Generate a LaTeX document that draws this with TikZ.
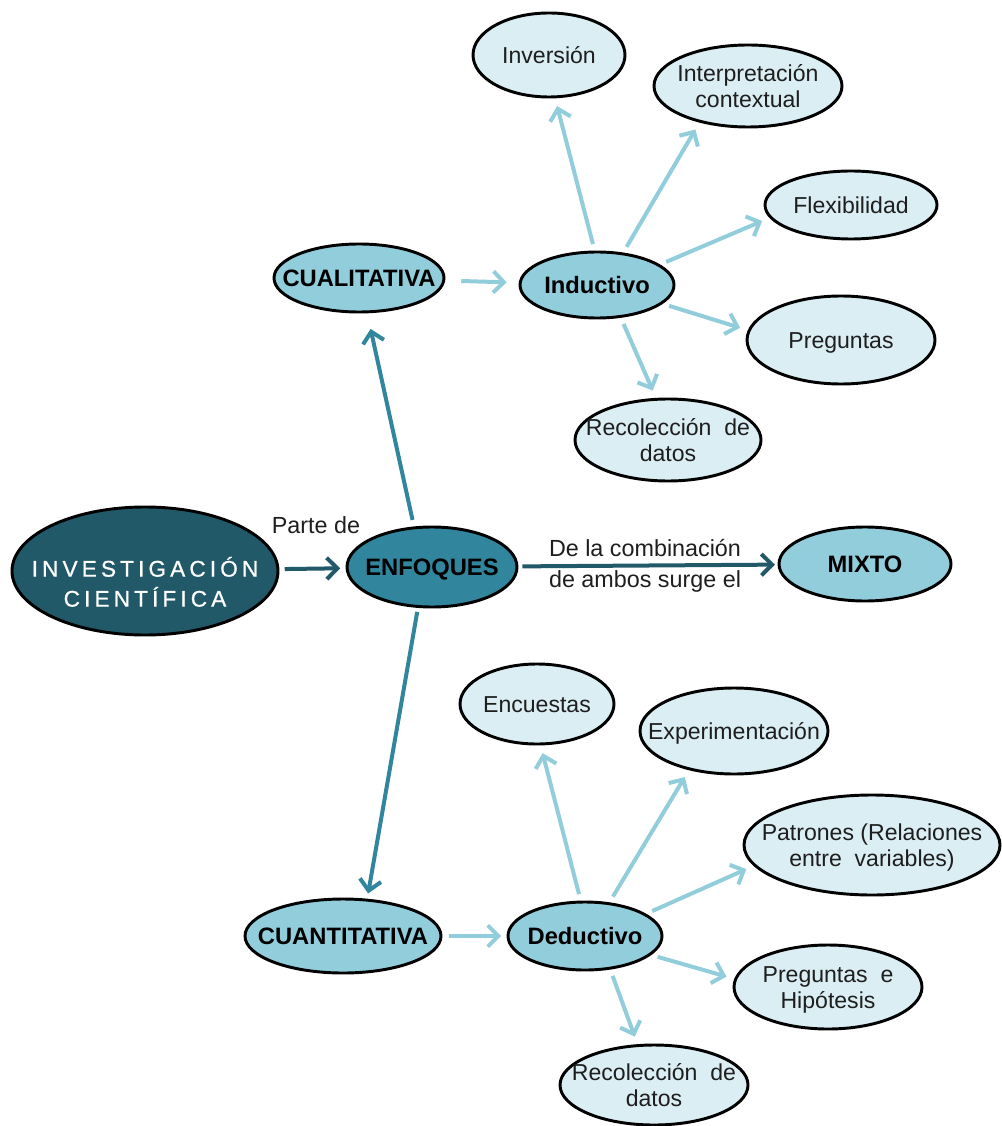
\documentclass[tikz,border=0pt]{standalone}
\usepackage{fontspec}
\setmainfont{Liberation Sans}
\newfontfamily\spacedfont[LetterSpace=18,FakeBold=0.8]{Liberation Sans}
\usetikzlibrary{shapes.geometric,arrows.meta}
\definecolor{dteal}{HTML}{215968}
\definecolor{mteal}{HTML}{31859C}
\definecolor{lblue}{HTML}{92CDDC}
\definecolor{pblue}{HTML}{DBEEF4}
\definecolor{txt}{HTML}{1E1E1E}
\newcommand{\zbox}[2][-6.6pt]{\makebox[0pt]{\raisebox{#1}[0pt][0pt]{\begin{tabular}{@{}c@{}}#2\end{tabular}}}}
\begin{document}
\begin{tikzpicture}[x=0.75pt,y=-0.75pt,
  el/.style={ellipse, draw=black, line width=2.2pt, inner sep=0pt},
  leaf/.style={el, fill=pblue, text=txt, font=\fontsize{17.3}{20}\selectfont},
  midn/.style={el, fill=lblue, text=black, font=\fontsize{17.8}{20}\selectfont\bfseries},
  sz/.style 2 args={minimum width=#1pt, minimum height=#2pt},
  tip/.style={-{Straight Barb[length=8pt,width=16pt]}},
  la/.style={draw=lblue, line width=3pt, tip, shorten <=5pt, shorten >=6pt},
  da/.style={draw=#1, line width=3pt, tip},
  lbl/.style={text=txt, font=\fontsize{17.5}{23}\selectfont, align=center, inner sep=0pt}
]
\useasboundingbox (0,0) rectangle (1001,1126);

% main nodes
\node[el, fill=dteal, text=white, sz={199.5}{96}, font=\fontsize{17}{22.5}\selectfont\spacedfont] (inv) at (145,571)
  {\zbox[-15.3pt]{INVESTIGACIÓN\\CIENTÍFICA}};
\node[el, fill=mteal, text=black, sz={127.5}{60}, font=\fontsize{17.8}{20}\selectfont\bfseries] (enf) at (432,567) {\zbox{ENFOQUES}};
\node[midn, sz={129}{55.5}] (mix) at (865,564) {\zbox{MIXTO}};
\node[midn, sz={127.5}{51}] (cual) at (359,278) {\zbox{CUALITATIVA}};
\node[midn, sz={115.5}{49.5}] (ind) at (597,285) {\zbox{Inductivo}};
\node[midn, sz={147}{55.5}] (cuan) at (343,936) {\zbox{CUANTITATIVA}};
\node[midn, sz={115.5}{51}] (ded) at (585,936) {\zbox{Deductivo}};

% qualitative leaves
\node[leaf, sz={114}{63}] (invr) at (549,55) {\zbox{Inversión}};
\node[leaf, sz={141}{61.5}] (interp) at (748,86) {\zbox{Interpretación\\contextual}};
\node[leaf, sz={129}{51}] (flex) at (851,205) {\zbox{Flexibilidad}};
\node[leaf, sz={141}{66}] (preg) at (841,340) {\zbox{Preguntas}};
\node[leaf, sz={139.5}{61.5}] (rec1) at (668,440) {\zbox{Recolección\ \ de\\datos}};

% quantitative leaves
\node[leaf, sz={115.5}{60}] (enc) at (537,704) {\zbox{Encuestas}};
\node[leaf, sz={141}{64.5}] (exp) at (734,731) {\zbox{Experimentación}};
\node[leaf, sz={192}{75}] (pat) at (872,845) {\zbox{Patrones (Relaciones\\entre\ \ variables)}};
\node[leaf, sz={141}{63}] (ph) at (828,987) {\zbox{Preguntas\ \ e\\Hipótesis}};
\node[leaf, sz={141}{60}] (rec2) at (654,1085) {\zbox{Recolección\ \ de\\datos}};

% labels
\node[lbl] (lparte) at (316,525) {Parte de};
\node[lbl] (lcomb) at (645,566) {De la combinación\\de ambos surge el};

% main connectors
\draw[da=dteal, shorten <=4pt, shorten >=4pt] (inv) -- (enf);
\draw[da=dteal, shorten <=3pt, shorten >=2pt] (enf) -- (mix);
\draw[da=mteal, shorten <=5pt, shorten >=12pt] (enf.114) -- (cual.283);
\draw[da=mteal, shorten <=3pt, shorten >=4pt] (enf.251) -- (cuan.57);

% qualitative
\draw[la, shorten <=12pt, shorten >=9pt] (cual) -- (ind);
\draw[la] (ind.94) -- (invr.278);
\draw[la] (ind.51) -- (interp.217);
\draw[la] (ind.18) -- (flex.189);
\draw[la] (ind.344) -- (preg.174);
\draw[la] (ind.306) -- (rec1.106);

% quantitative
\draw[la, shorten <=5pt, shorten >=4pt] (cuan) -- (ded);
\draw[la] (ded.97) -- (enc.275);
\draw[la] (ded.54) -- (exp.221);
\draw[la] (ded.20) -- (pat.190);
\draw[la] (ded.344) -- (ph.175);
\draw[la] (ded.307) -- (rec2.112);
\end{tikzpicture}
\end{document}
